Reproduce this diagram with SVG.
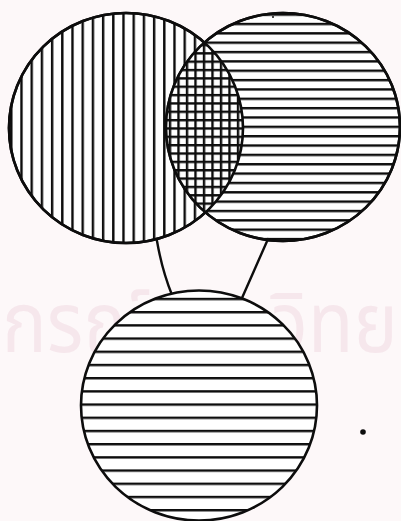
<svg xmlns="http://www.w3.org/2000/svg" width="401" height="521" viewBox="0 0 401 521">
  <style>
    .outline { fill: none; stroke: #0d0d0d; stroke-width: 2.6; }
    .conn { fill: none; stroke: #0d0d0d; stroke-width: 2.4; stroke-linecap: round; }
    .wm { font-family: "Noto Sans Thai", "Noto Sans", "DejaVu Sans", sans-serif; font-size: 84px; fill: #f6e7ec; }
  </style>
  <defs>
    <pattern id="vert" patternUnits="userSpaceOnUse" x="20.3" y="0" width="10.2" height="10">
      <rect width="10.2" height="10" fill="#fff"/>
      <rect x="0" y="0" width="2.4" height="10" fill="#0d0d0d"/>
    </pattern>
    <pattern id="horiz" patternUnits="userSpaceOnUse" x="0" y="22.8" width="10" height="9.35">
      <rect width="10" height="9.35" fill="#fff"/>
      <rect x="0" y="0" width="10" height="2.4" fill="#0d0d0d"/>
    </pattern>
    <pattern id="grid" patternUnits="userSpaceOnUse" x="160.3" y="43.8" width="8.5" height="8.35">
      <rect width="8.5" height="8.35" fill="#fff"/>
      <rect x="0" y="0" width="2.4" height="8.35" fill="#0d0d0d"/>
      <rect x="0" y="0" width="8.5" height="2.4" fill="#0d0d0d"/>
    </pattern>
    <pattern id="horizB" patternUnits="userSpaceOnUse" x="0" y="297.8" width="10" height="13.2">
      <rect width="10" height="13.2" fill="#fff"/>
      <rect x="0" y="0" width="10" height="2.4" fill="#0d0d0d"/>
    </pattern>
    <clipPath id="clipL"><ellipse cx="126" cy="128" rx="117" ry="115"/></clipPath>
    <clipPath id="clipR"><ellipse cx="283" cy="127" rx="117" ry="114"/></clipPath>
  </defs>

  <rect width="401" height="521" fill="#fdf8f9"/>
  <text class="wm" x="2" y="352" textLength="396" lengthAdjust="spacingAndGlyphs">กรณ์มหาวิทย</text>

  <g id="circle-left">
    <ellipse cx="126" cy="128" rx="117" ry="115" fill="url(#vert)"/>
    <ellipse class="outline" cx="126" cy="128" rx="117" ry="115"/>
  </g>

  <g id="circle-right">
    <ellipse cx="283" cy="127" rx="117" ry="114" fill="url(#horiz)"/>
    <ellipse class="outline" cx="283" cy="127" rx="117" ry="114"/>
    <circle cx="273" cy="17" r="1" fill="#0d0d0d"/>
  </g>

  <g id="overlap">
    <g clip-path="url(#clipL)">
      <g clip-path="url(#clipR)">
        <rect x="150" y="30" width="110" height="195" fill="url(#grid)"/>
      </g>
    </g>
    <ellipse class="outline" cx="126" cy="128" rx="117" ry="115"/>
    <ellipse class="outline" cx="283" cy="127" rx="117" ry="114"/>
  </g>

  <g id="connectors">
    <path class="conn" d="M157,241 Q162,270 172,295"/>
    <path class="conn" d="M268,239 L242,298"/>
  </g>

  <g id="circle-bottom">
    <ellipse cx="199" cy="405.5" rx="118" ry="115" fill="url(#horizB)"/>
    <ellipse class="outline" cx="199" cy="405.5" rx="118" ry="115"/>
  </g>

  <circle cx="363" cy="432" r="2.8" fill="#0d0d0d"/>
</svg>
